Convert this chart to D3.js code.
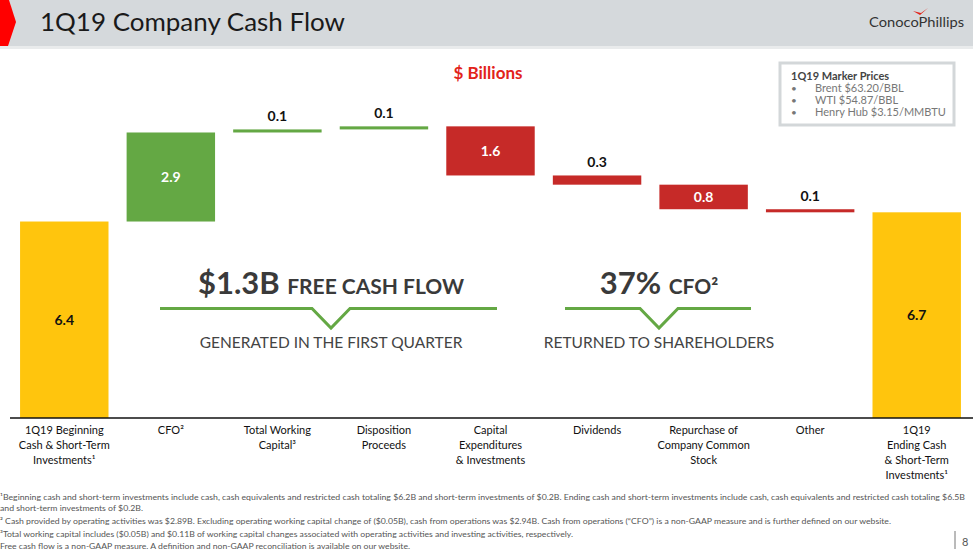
<!DOCTYPE html>
<html>
<head>
<meta charset="utf-8">
<script src="https://cdn.jsdelivr.net/npm/d3@7"></script>
<style>
  body { margin: 0; background: #fff; }
  svg { display: block; font-family: Lato, "Open Sans", sans-serif; }
</style>
</head>
<body>
<svg></svg>
<script>
var w = 973,
    h = 552;

// waterfall steps, $ billions
var categories = ["begin", "cfo", "wc", "disp", "capex", "div", "rep", "other", "end"];
var labels = [
  ["1Q19 Beginning", "Cash & Short-Term", "Investments\u00b9"],
  ["CFO\u00b2"],
  ["Total Working", "Capital\u00b3"],
  ["Disposition", "Proceeds"],
  ["Capital", "Expenditures", "& Investments"],
  ["Dividends"],
  ["Repurchase of", "Company Common", "Stock"],
  ["Other"],
  ["1Q19", "Ending Cash", "& Short-Term", "Investments\u00b9"]
];
var values = [6.4, 2.9, 0.1, 0.1, -1.6, -0.3, -0.8, -0.1, 6.7];
var kinds = ["total", "step", "step", "step", "step", "step", "step", "step", "total"];

var prices = ["Brent $63.20/BBL", "WTI $54.87/BBL", "Henry Hub $3.15/MMBTU"];

var footnotes = [
  "\u00b9Beginning cash and short-term investments include cash, cash equivalents and restricted cash totaling $6.2B and short-term investments of $0.2B. Ending cash and short-term investments include cash, cash equivalents and restricted cash totaling $6.5B",
  "and short-term investments of $0.2B.",
  "\u00b2 Cash provided by operating activities was $2.89B. Excluding operating working capital change of ($0.05B), cash from operations was $2.94B. Cash from operations (\u201cCFO\u201d) is a non-GAAP measure and is further defined on our website.",
  "\u00b3Total working capital includes ($0.05B) and $0.11B of working capital changes associated with operating activities and investing activities, respectively.",
  "Free cash flow is a non-GAAP measure. A definition and non-GAAP reconciliation is available on our website."
];
var footWidths = [965, 143, 891, 573, 410];

var colors = { total: "#ffc50d", up: "#64a844", down: "#c62a28" };

var svg = d3.select("svg").attr("width", w).attr("height", h);

// header band
svg.append("rect").attr("width", w).attr("height", 46).attr("fill", "#d5d9dc");
svg.append("rect").attr("y", 46).attr("width", w).attr("height", 3).attr("fill", "#e9ebec");
svg.append("polygon")
    .attr("points", "0,0 9,0 16,22 8,46 0,46")
    .attr("fill", "#ff0000");
svg.append("text")
    .attr("x", 40).attr("y", 31)
    .attr("font-size", 25)
    .attr("fill", "#1a1a1a")
    .attr("textLength", 305)
    .attr("lengthAdjust", "spacingAndGlyphs")
    .text("1Q19 Company Cash Flow");

// logo
svg.append("text")
    .attr("x", 869).attr("y", 27)
    .attr("font-size", 14)
    .attr("fill", "#333")
    .attr("textLength", 95)
    .attr("lengthAdjust", "spacingAndGlyphs")
    .text("ConocoPhillips");
svg.append("path")
    .attr("d", "M913,11 L920,15 L928,8 L921,13 Z")
    .attr("fill", "#e2231a");

svg.append("text")
    .attr("x", 488).attr("y", 79)
    .attr("text-anchor", "middle")
    .attr("font-size", 17)
    .attr("font-weight", "bold")
    .attr("fill", "#e2231a")
    .text("$ Billions");

// marker prices box
svg.append("rect")
    .attr("x", 780).attr("y", 63)
    .attr("width", 174).attr("height", 62)
    .attr("fill", "#fff")
    .attr("stroke", "#d3d7d9")
    .attr("stroke-width", 3);
svg.append("text")
    .attr("x", 791).attr("y", 80)
    .attr("font-size", 11).attr("font-weight", "bold")
    .attr("fill", "#444")
    .text("1Q19 Marker Prices");
var pr = svg.selectAll(".price").data(prices).enter().append("g").attr("class", "price");
pr.append("text")
    .attr("x", 791).attr("y", function(d, i) { return 92 + i * 12; })
    .attr("font-size", 10).attr("fill", "#777")
    .text("\u2022");
pr.append("text")
    .attr("x", 815).attr("y", function(d, i) { return 92 + i * 12; })
    .attr("font-size", 11).attr("fill", "#777")
    .text(function(d) { return d; });

// scales
var x = d3.scaleBand()
    .domain(categories)
    .range([11, 970])
    .paddingInner(0.17)
    .paddingOuter(0.085);

var y = d3.scaleLinear()
    .domain([0, 10])
    .range([418, 111]);

// running totals for the waterfall
var run = 0;
var bars = values.map(function(v, i) {
  var lo, hi, col;
  if (kinds[i] == "total") {
    lo = 0; hi = v; run = v; col = colors.total;
  } else {
    lo = Math.min(run, run + v);
    hi = Math.max(run, run + v);
    run = run + v;
    col = v >= 0 ? colors.up : colors.down;
  }
  return { key: categories[i], v: v, lo: lo, hi: hi, col: col, kind: kinds[i] };
});

svg.selectAll(".bar")
    .data(bars)
    .enter().append("rect")
    .attr("class", "bar")
    .attr("x", function(d) { return x(d.key); })
    .attr("y", function(d) { return y(d.hi); })
    .attr("width", x.bandwidth())
    .attr("height", function(d) { return y(d.lo) - y(d.hi); })
    .attr("fill", function(d) { return d.col; });

svg.selectAll(".val")
    .data(bars)
    .enter().append("text")
    .attr("class", "val")
    .attr("text-anchor", "middle")
    .attr("font-size", 14)
    .attr("font-weight", "bold")
    .attr("x", function(d) { return x(d.key) + x.bandwidth() / 2; })
    .attr("y", function(d) {
      var hgt = y(d.lo) - y(d.hi);
      if (d.kind == "step" && hgt < 15) return y(d.hi) - 8;
      return (y(d.lo) + y(d.hi)) / 2 + 5;
    })
    .attr("fill", function(d) {
      var hgt = y(d.lo) - y(d.hi);
      if (d.kind == "total" || hgt < 15) return "#111";
      return "#fff";
    })
    .text(function(d) { return d3.format(".1f")(Math.abs(d.v)); });

// axis
var xAxis = d3.axisBottom(x).tickSize(0).tickFormat("");
var ax = svg.append("g")
    .attr("transform", "translate(0," + y(0) + ")")
    .call(xAxis);
ax.select(".domain").attr("d", "M10,0H973").attr("stroke", "#111").attr("stroke-width", 1.5);

var lab = svg.selectAll(".cat")
    .data(categories)
    .enter().append("text")
    .attr("class", "cat")
    .attr("text-anchor", "middle")
    .attr("font-size", 11)
    .attr("fill", "#111")
    .attr("transform", function(d) { return "translate(" + (x(d) + x.bandwidth() / 2) + ",434)"; });
lab.selectAll("tspan")
    .data(function(d, i) { return labels[i]; })
    .enter().append("tspan")
    .attr("x", 0)
    .attr("dy", function(d, i) { return i == 0 ? 0 : 15; })
    .text(function(d) { return d; });

// callouts
function callout(cx, x0, x1, big, small, sub) {
  var t = svg.append("text")
      .attr("x", cx).attr("y", 294)
      .attr("text-anchor", "middle")
      .attr("font-weight", "bold")
      .attr("fill", "#3a3a3a");
  t.append("tspan").attr("font-size", 31).text(big);
  t.append("tspan").attr("font-size", 21).text(small);
  svg.append("path")
      .attr("d", "M" + x0 + ",308.5H" + (cx - 19) + "L" + cx + ",328L" + (cx + 19) + ",308.5H" + x1)
      .attr("fill", "none")
      .attr("stroke", colors.up)
      .attr("stroke-width", 3);
  svg.append("text")
      .attr("x", cx).attr("y", 348)
      .attr("text-anchor", "middle")
      .attr("font-size", 15.5)
      .attr("fill", "#444")
      .text(sub);
}
callout(331, 160, 497, "$1.3B ", "FREE CASH FLOW", "GENERATED IN THE FIRST QUARTER");
callout(659, 565, 751, "37% ", "CFO\u00b2", "RETURNED TO SHAREHOLDERS");

// footnotes
svg.selectAll(".foot")
    .data(footnotes)
    .enter().append("text")
    .attr("class", "foot")
    .attr("x", 0)
    .attr("y", function(d, i) { return [500, 511, 524, 537, 549][i]; })
    .attr("font-size", 8)
    .attr("fill", "#555")
    .attr("textLength", function(d, i) { return footWidths[i]; })
    .attr("lengthAdjust", "spacingAndGlyphs")
    .text(function(d) { return d; });

svg.append("line")
    .attr("x1", 955).attr("x2", 955)
    .attr("y1", 531).attr("y2", 549)
    .attr("stroke", "#777");
svg.append("text")
    .attr("x", 962).attr("y", 546)
    .attr("font-size", 11)
    .attr("fill", "#555")
    .text("8");
</script>
</body>
</html>
